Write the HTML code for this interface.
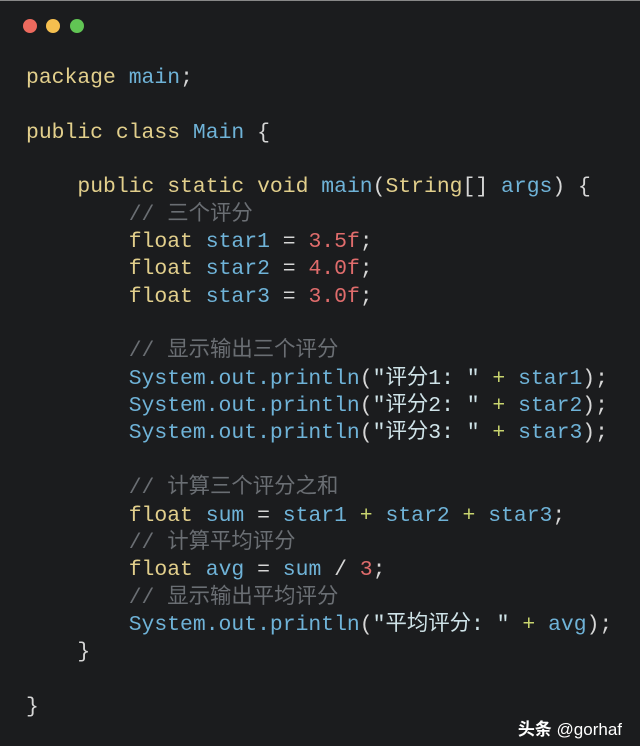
<!DOCTYPE html>
<html><head><meta charset="utf-8"><style>
html,body{margin:0;padding:0;background:#1b1c1e;}
.w{position:relative;width:640px;height:746px;background:#1b1c1e;overflow:hidden;border-top:1px solid #888;box-sizing:border-box;}
.d{position:absolute;top:18px;width:14px;height:14px;border-radius:50%;}
pre{position:absolute;left:26px;top:64px;margin:0;font-family:"Liberation Mono","Noto Sans CJK SC",monospace;font-size:21.4px;line-height:27.35px;color:#d6d6d6;}
.k{color:#e2cf8c}.b{color:#6fb3d8}.n{color:#e06c6c}.c{color:#6a6e73}.s{color:#cfe3e8}.p{color:#c8d46e}
.wm{position:absolute;right:18px;top:714px;color:#fff;font-family:"Liberation Sans","Noto Sans CJK SC",sans-serif;font-size:17px;}
</style></head><body><div class="w">
<div class="d" style="left:23px;background:#ed6a5e"></div>
<div class="d" style="left:46px;background:#f5bf4f"></div>
<div class="d" style="left:70px;background:#61c554"></div>
<pre><span class="k">package</span> <span class="b">main</span>;

<span class="k">public class</span> <span class="b">Main</span> {

    <span class="k">public static void</span> <span class="b">main</span>(<span class="k">String</span>[] <span class="b">args</span>) {
        <span class="c">// 三个评分</span>
        <span class="k">float</span> <span class="b">star1</span> = <span class="n">3.5f</span>;
        <span class="k">float</span> <span class="b">star2</span> = <span class="n">4.0f</span>;
        <span class="k">float</span> <span class="b">star3</span> = <span class="n">3.0f</span>;

        <span class="c">// 显示输出三个评分</span>
        <span class="b">System.out.println</span>(<span class="s">"评分1: "</span> <span class="p">+</span> <span class="b">star1</span>);
        <span class="b">System.out.println</span>(<span class="s">"评分2: "</span> <span class="p">+</span> <span class="b">star2</span>);
        <span class="b">System.out.println</span>(<span class="s">"评分3: "</span> <span class="p">+</span> <span class="b">star3</span>);

        <span class="c">// 计算三个评分之和</span>
        <span class="k">float</span> <span class="b">sum</span> = <span class="b">star1</span> <span class="p">+</span> <span class="b">star2</span> <span class="p">+</span> <span class="b">star3</span>;
        <span class="c">// 计算平均评分</span>
        <span class="k">float</span> <span class="b">avg</span> = <span class="b">sum</span> / <span class="n">3</span>;
        <span class="c">// 显示输出平均评分</span>
        <span class="b">System.out.println</span>(<span class="s">"平均评分: "</span> <span class="p">+</span> <span class="b">avg</span>);
    }

}</pre>
<div class="wm"><b>头条</b> @gorhaf</div>
</div></body></html>
